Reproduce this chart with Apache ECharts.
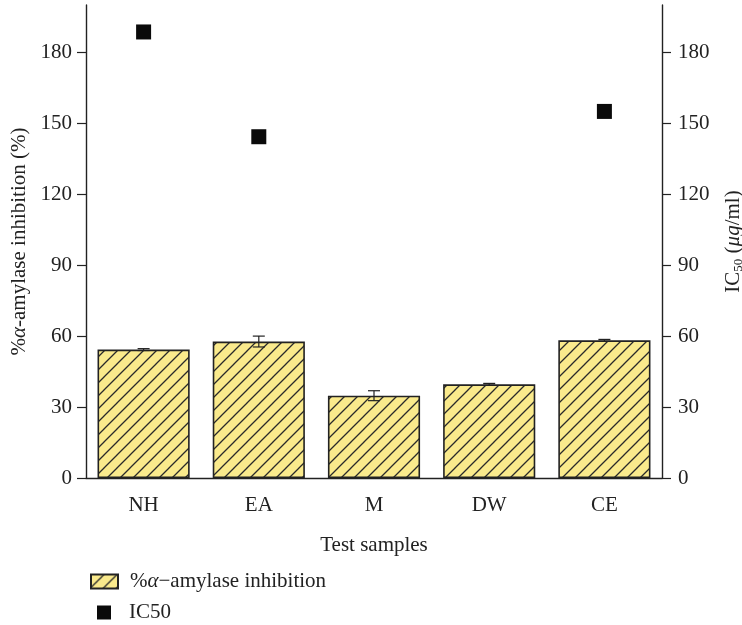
<!DOCTYPE html>
<html>
<head>
<meta charset="utf-8">
<script src="https://cdn.jsdelivr.net/npm/echarts@6/dist/echarts.min.js"></script>
<style>
html,body{margin:0;padding:0;background:#fff;}
#chart{width:742px;height:625px;}
</style>
</head>
<body>
<div id="chart"></div>
<script>
var categories = ['NH', 'EA', 'M', 'DW', 'CE'];
var inhibition = [54.3, 57.7, 34.8, 39.6, 58.2];
var inhibitionErr = [0.4, 2.3, 2.1, 0.4, 0.4];
var ic50 = [188.6, 144.3, null, null, 155.0];
var yTicks = [0, 30, 60, 90, 120, 150, 180];

var FONT = '"Liberation Serif", "DejaVu Serif", serif';
var FS = 21;

function makePattern() {
  var s = 13;
  var c = document.createElement('canvas');
  c.width = s; c.height = s;
  var g = c.getContext('2d');
  g.fillStyle = '#FAEA8C';
  g.fillRect(0, 0, s, s);
  g.strokeStyle = '#2a2a2a';
  g.lineWidth = 1.3;
  g.beginPath();
  g.moveTo(-2, s + 2); g.lineTo(s + 2, -2);
  g.moveTo(-2, 2); g.lineTo(2, -2);
  g.moveTo(s - 2, s + 2); g.lineTo(s + 2, s - 2);
  g.stroke();
  return c;
}
var pattern = { image: makePattern(), repeat: 'repeat' };

var errData = categories.map(function (c, i) {
  return [i, inhibition[i] - inhibitionErr[i], inhibition[i] + inhibitionErr[i]];
});
var scatterData = categories.map(function (c, i) { return ic50[i] == null ? null : [i, ic50[i]]; }).filter(function (d) { return d; });

var barName = '%α−amylase inhibition';

var chart = echarts.init(document.getElementById('chart'), null, { renderer: 'canvas' });
var yAxisBase = {
  type: 'value', min: 0, max: 200, interval: 30,
  nameLocation: 'middle', nameRotate: 90,
  axisLine: { show: true, lineStyle: { color: '#222', width: 1.4 } },
  axisTick: { show: true, inside: false, length: 9, customValues: yTicks, lineStyle: { color: '#222', width: 1.2 } },
  axisLabel: { customValues: yTicks, fontFamily: FONT, fontSize: FS, color: '#222', margin: 14 },
  splitLine: { show: false }
};
chart.setOption({
  animation: false,
  textStyle: { fontFamily: FONT },
  grid: { left: 86, right: 80, top: 5, bottom: 147, containLabel: false, outerBoundsMode: 'none' },
  xAxis: {
    type: 'category', data: categories,
    name: 'Test samples', nameLocation: 'middle', nameGap: 57,
    nameTextStyle: { fontFamily: FONT, fontSize: FS, color: '#222' },
    axisLine: { lineStyle: { color: '#222', width: 1.4 } },
    axisTick: { alignWithLabel: true, length: 8, lineStyle: { color: '#222', width: 1.2 } },
    axisLabel: { fontFamily: FONT, fontSize: FS, color: '#222', margin: 17 }
  },
  yAxis: [
    Object.assign({}, yAxisBase, {
      position: 'left',
      name: '%{i|α}-amylase inhibition (%)', nameGap: 49,
      nameTextStyle: { fontFamily: FONT, fontSize: FS, color: '#222', rich: { i: { fontFamily: FONT, fontSize: FS, fontStyle: 'italic', color: '#222' } } }
    }),
    Object.assign({}, yAxisBase, {
      position: 'right',
      axisLabel: { customValues: yTicks, fontFamily: FONT, fontSize: FS, color: '#222', margin: 16 },
      name: 'IC{s|50} ({i|μg}/ml)', nameGap: 60,
      nameTextStyle: { fontFamily: FONT, fontSize: FS, color: '#222', rich: { s: { fontFamily: FONT, fontSize: 13, verticalAlign: 'bottom', padding: [10, 0, 0, 0], color: '#222' }, i: { fontFamily: FONT, fontSize: FS, fontStyle: 'italic', color: '#222' } } }
    })
  ],
  legend: [
    {
      data: [{ name: barName, icon: 'rect' }], orient: 'vertical', left: 85, top: 566,
      itemWidth: 27, itemHeight: 14,
      formatter: function () { return '%{i|α}−amylase inhibition'; },
      textStyle: { fontFamily: FONT, fontSize: FS, color: '#222', padding: [0, 0, 0, 7], rich: { i: { fontFamily: FONT, fontSize: FS, fontStyle: 'italic', color: '#222' } } }
    },
    {
      data: [{ name: 'IC50', icon: 'rect' }], orient: 'vertical', left: 92, top: 597,
      itemWidth: 14, itemHeight: 14,
      textStyle: { fontFamily: FONT, fontSize: FS, color: '#222', padding: [0, 0, 0, 13] }
    }
  ],
  series: [
    {
      name: barName, type: 'bar', data: inhibition, barWidth: '80%', yAxisIndex: 0,
      itemStyle: { color: pattern, borderColor: '#222', borderWidth: 1.6 }
    },
    {
      name: 'errors', type: 'custom', yAxisIndex: 0, data: errData, z: 5,
      renderItem: function (params, api) {
        var x = api.value(0);
        var lo = api.coord([x, api.value(1)]);
        var hi = api.coord([x, api.value(2)]);
        var w = 6;
        var st = { stroke: '#222', lineWidth: 1.2, fill: null };
        return {
          type: 'group', children: [
            { type: 'line', shape: { x1: lo[0], y1: lo[1], x2: hi[0], y2: hi[1] }, style: st },
            { type: 'line', shape: { x1: lo[0] - w, y1: lo[1], x2: lo[0] + w, y2: lo[1] }, style: st },
            { type: 'line', shape: { x1: hi[0] - w, y1: hi[1], x2: hi[0] + w, y2: hi[1] }, style: st }
          ]
        };
      }
    },
    {
      name: 'IC50', type: 'scatter', yAxisIndex: 1, data: scatterData,
      symbol: 'rect', symbolSize: 15, itemStyle: { color: '#0a0a0a', opacity: 1 }
    }
  ]
});
</script>
</body>
</html>
